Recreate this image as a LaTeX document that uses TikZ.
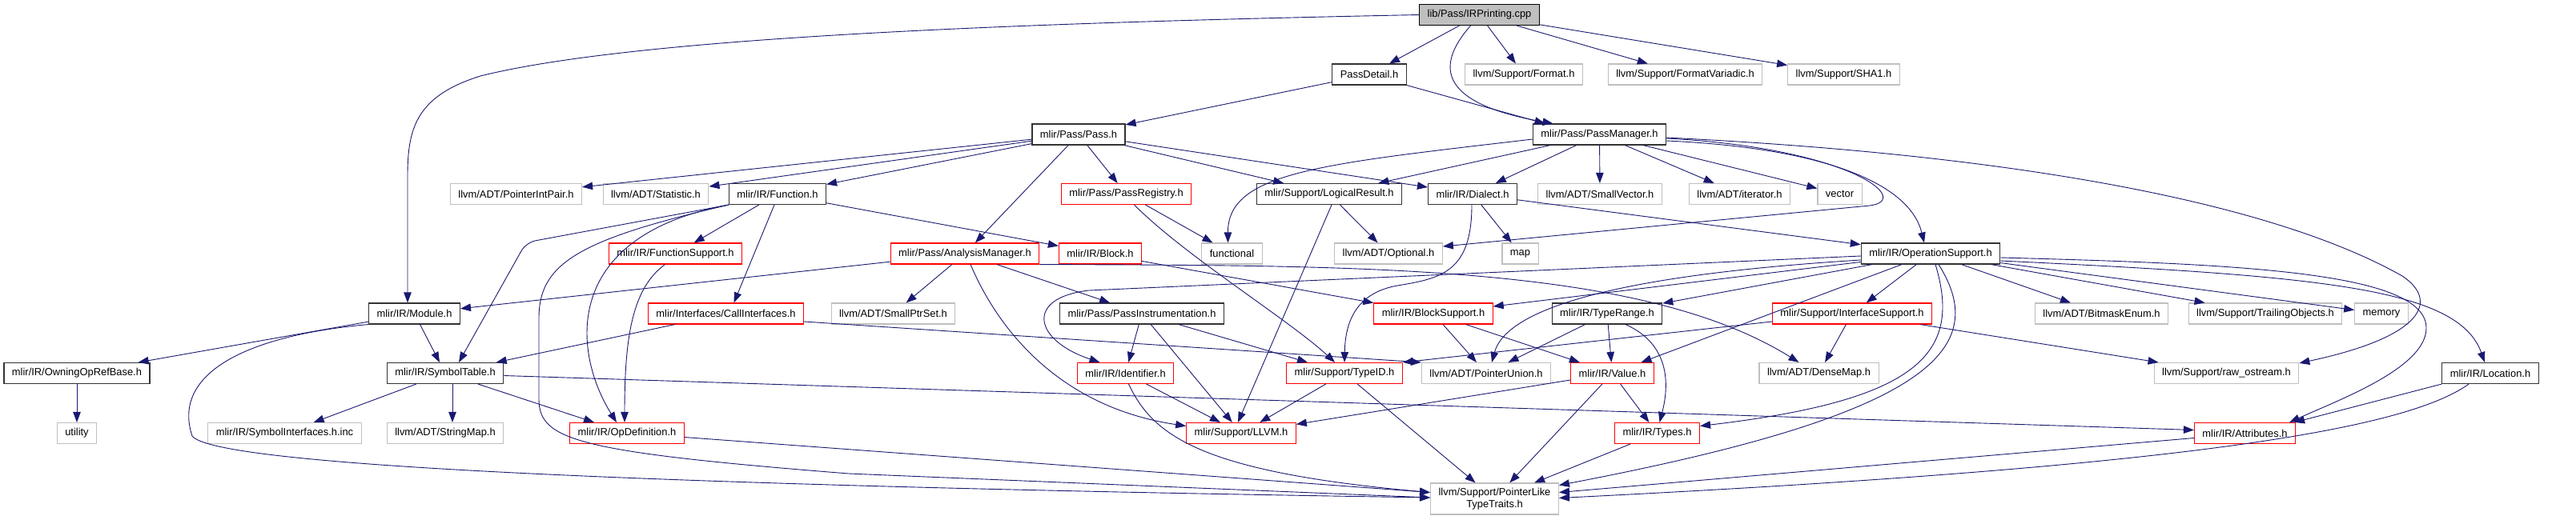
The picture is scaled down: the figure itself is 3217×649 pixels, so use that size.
\documentclass[tikz,border=0pt]{standalone}
\usepackage{fontspec}
\setmainfont{Liberation Sans}
\usetikzlibrary{arrows.meta}

\definecolor{edgeblue}{HTML}{191970}
\definecolor{extgrey}{HTML}{BFBFBF}

\begin{document}
\begin{tikzpicture}[x=1pt, y=-1pt,
  file/.style={draw, line width=1.1pt, inner xsep=10pt, inner ysep=0pt,
    minimum height=26pt, font=\fontsize{12.9}{15}\selectfont},
  doc/.style={file, draw=black!80},
  trunc/.style={file, draw=red},
  ext/.style={file, draw=extgrey},
  dep/.style={draw=edgeblue, line width=0.9pt, -{Triangle[length=13pt,width=9.5pt]}}]

\useasboundingbox (0,0) rectangle (3217,649);

% The file itself
\node[file, fill=extgrey, draw=black] (root) at (1847.5,18.5) {lib/Pass/IRPrinting.cpp};

% Row 1
\node[doc] (passdetail) at (1710,93) {PassDetail.h};
\node[ext] (format) at (1903,93) {llvm/Support/Format.h};
\node[ext] (formatvar) at (2104.5,93) {llvm/Support/FormatVariadic.h};
\node[ext] (sha1) at (2302.5,93) {llvm/Support/SHA1.h};

% Row 2
\node[doc] (pass) at (1347,168) {mlir/Pass/Pass.h};
\node[doc] (passmgr) at (1997.5,168) {mlir/Pass/PassManager.h};

% Row 3
\node[ext] (ptrintpair) at (644.5,242.5) {llvm/ADT/PointerIntPair.h};
\node[ext] (statistic) at (819,242.5) {llvm/ADT/Statistic.h};
\node[doc] (function) at (971,242.5) {mlir/IR/Function.h};
\node[trunc] (passreg) at (1406.5,242.5) {mlir/Pass/PassRegistry.h};
\node[doc] (logical) at (1660,242.5) {mlir/Support/LogicalResult.h};
\node[doc] (dialect) at (1839,242.5) {mlir/IR/Dialect.h};
\node[ext] (smallvec) at (1998,242.5) {llvm/ADT/SmallVector.h};
\node[ext] (iterator) at (2172.5,242.5) {llvm/ADT/iterator.h};
\node[ext] (vector) at (2297.5,242.5) {vector};

% Row 4
\node[trunc] (funcsupport) at (843.5,317) {mlir/IR/FunctionSupport.h};
\node[trunc] (analysis) at (1205,317) {mlir/Pass/AnalysisManager.h};
\node[trunc] (block) at (1374,317) {mlir/IR/Block.h};
\node[ext] (functional) at (1538.5,317) {functional};
\node[ext] (optional) at (1734,317) {llvm/ADT/Optional.h};
\node[ext] (map) at (1898.5,317) {map};
\node[doc] (opsupport) at (2411,317) {mlir/IR/OperationSupport.h};

% Row 5
\node[doc] (module) at (517.5,392) {mlir/IR/Module.h};
\node[trunc] (callif) at (906.5,392) {mlir/Interfaces/CallInterfaces.h};
\node[ext] (smallptrset) at (1115.5,392) {llvm/ADT/SmallPtrSet.h};
\node[doc] (passinstr) at (1426,392) {mlir/Pass/PassInstrumentation.h};
\node[trunc] (blocksupport) at (1790,392) {mlir/IR/BlockSupport.h};
\node[doc] (typerange) at (2007,392) {mlir/IR/TypeRange.h};
\node[trunc] (ifsupport) at (2313,392) {mlir/Support/InterfaceSupport.h};
\node[ext] (bitmask) at (2624.5,392) {llvm/ADT/BitmaskEnum.h};
\node[ext] (trailing) at (2829,392) {llvm/Support/TrailingObjects.h};
\node[ext] (memory) at (2974,392) {memory};

% Row 6
\node[doc] (owning) at (96,466.5) {mlir/IR/OwningOpRefBase.h};
\node[doc] (symtable) at (556,466.5) {mlir/IR/SymbolTable.h};
\node[trunc] (identifier) at (1405.5,466.5) {mlir/IR/Identifier.h};
\node[trunc] (typeid) at (1679,466.5) {mlir/Support/TypeID.h};
\node[ext] (ptrunion) at (1856,466.5) {llvm/ADT/PointerUnion.h};
\node[trunc] (value) at (2013.5,466.5) {mlir/IR/Value.h};
\node[ext] (densemap) at (2271.5,466.5) {llvm/ADT/DenseMap.h};
\node[ext] (rawos) at (2780.5,466.5) {llvm/Support/raw\_ostream.h};
\node[doc] (location) at (3110,466.5) {mlir/IR/Location.h};

% Row 7
\node[ext] (utility) at (96,541.5) {utility};
\node[ext] (syminterfaces) at (355.5,541.5) {mlir/IR/SymbolInterfaces.h.inc};
\node[ext] (stringmap) at (556,541.5) {llvm/ADT/StringMap.h};
\node[trunc] (opdef) at (783,541.5) {mlir/IR/OpDefinition.h};
\node[trunc] (llvmh) at (1550,541.5) {mlir/Support/LLVM.h};
\node[trunc] (types) at (2069.5,541.5) {mlir/IR/Types.h};
\node[trunc] (attributes) at (2803.5,541.5) {mlir/IR/Attributes.h};

% Bottom
\node[ext, align=center, minimum height=39pt] (pltt) at (1866.5,623.5) {llvm/Support/PointerLike\\TypeTraits.h};

% Includes of IRPrinting.cpp
\draw[dep] (root.west) .. controls (1300,28) and (800,45) .. (600,95)
  .. controls (520,120) and (509,160) .. (509,220) -- ([xshift=-8.5pt]module.north);
\draw[dep] (root) -- (passdetail);
\draw[dep] ([xshift=-11pt]root.south) .. controls (1790,85) and (1800,130) .. ([xshift=-58pt]passmgr.north);
\draw[dep] (root) -- (format);
\draw[dep] (root) -- (formatvar);
\draw[dep] (root) -- (sha1);

% PassDetail.h
\draw[dep] (passdetail) -- (pass);
\draw[dep] (passdetail.south east) -- ([xshift=-68pt]passmgr.north);

% Pass.h
\draw[dep] (pass) -- (ptrintpair);
\draw[dep] (pass) -- (statistic);
\draw[dep] (pass) -- (function);
\draw[dep] (pass) -- (analysis);
\draw[dep] (pass) -- (passreg);
\draw[dep] (pass) -- (logical);
\draw[dep] (pass) -- (dialect);

% PassManager.h
\draw[dep] (passmgr) -- (logical);
\draw[dep] (passmgr) -- (dialect);
\draw[dep] (passmgr) -- (smallvec);
\draw[dep] (passmgr) -- (iterator);
\draw[dep] (passmgr) -- (vector);
\draw[dep] ([yshift=-6pt]passmgr.west) .. controls (1650,205) and (1533,215) .. ([xshift=-5pt]functional.north);
\draw[dep] ([yshift=-5pt]passmgr.east) .. controls (2310,185) and (2390,250) .. (2335,257) -- ([yshift=9pt]optional.east);
\draw[dep] ([yshift=-8pt]passmgr.east) .. controls (2280,185) and (2385,230) .. ([xshift=-8pt]opsupport.north);
\draw[dep] ([yshift=-4pt]passmgr.east) .. controls (2550,195) and (2850,260) .. (3000,345)
  .. controls (3045,375) and (3030,420) .. ([yshift=-1pt]rawos.north east);

% Function.h
\draw[dep] (function) -- (funcsupport);
\draw[dep] ([xshift=-4pt]function.south) -- ([xshift=10pt]callif.north);
\draw[dep] (function) -- (block);
\draw[dep, rounded corners=12pt] (function.south west) -- (657,303) -- ([xshift=17pt]symtable.north);
\draw[dep] (function.south west) .. controls (700,295) and (715,440) .. ([xshift=-13pt]opdef.north);
\draw[dep] (function.south west) .. controls (720,300) and (672,330) .. (673,400) -- (673,500)
  .. controls (674,550) and (720,565) .. (1060,592) -- ([yshift=1.5pt]pltt.west);
\draw[dep] ([xshift=-13pt]funcsupport.south) .. controls (790,360) and (780,420) .. ([xshift=-3pt]opdef.north);

% LogicalResult.h, PassRegistry.h, Dialect.h
\draw[dep] (logical) -- (optional);
\draw[dep] ([xshift=3pt]logical.south) -- ([xshift=-4pt]llvmh.north);
\draw[dep] (passreg) -- (functional);
\draw[dep] ([xshift=10pt]passreg.south) .. controls (1480,320) and (1610,400) .. ([xshift=-12pt]typeid.north);
\draw[dep] (dialect) -- (map);
\draw[dep] (dialect) -- (opsupport);
\draw[dep] ([xshift=-1pt]dialect.south) .. controls (1838,340) and (1800,348) .. (1745,357)
  .. controls (1695,366) and (1680,400) .. (typeid.north);

% AnalysisManager.h
\draw[dep] (analysis) -- (module);
\draw[dep] (analysis) -- (smallptrset);
\draw[dep] (analysis) -- (passinstr);
\draw[dep] ([xshift=7pt]analysis.south) .. controls (1250,420) and (1330,510) .. ([yshift=9pt]llvmh.west);
\draw[dep] (analysis.south east) .. controls (1700,332) and (2050,330) .. ([xshift=-25pt]densemap.north);

% Block.h, Module.h, CallInterfaces.h, PassInstrumentation.h
\draw[dep] (block) -- (blocksupport);
\draw[dep] (module) -- (owning);
\draw[dep] (module) -- (symtable);
\draw[dep] (module.south west) .. controls (300,420) and (215,470) .. (240,545)
  .. controls (265,578) and (700,605) .. ([yshift=1.5pt]pltt.west);
\draw[dep] (callif) -- (symtable);
\draw[dep] ([yshift=-10pt]callif.east) -- (ptrunion.north west);
\draw[dep] (passinstr) -- (identifier);
\draw[dep] (passinstr) -- (llvmh);
\draw[dep] (passinstr) -- (typeid);

% OperationSupport.h
\draw[dep] (opsupport) -- (ifsupport);
\draw[dep] (opsupport) -- (bitmask);
\draw[dep] (opsupport) -- (trailing);
\draw[dep] (opsupport) -- (memory);
\draw[dep] (opsupport) -- (value);
\draw[dep] (opsupport) -- (typerange);
\draw[dep] (opsupport) -- (blocksupport);
\draw[dep] ([yshift=-8pt]opsupport.west) .. controls (2000,345) and (1880,390) .. ([xshift=7pt]ptrunion.north);
\draw[dep] ([yshift=-3pt]opsupport.west) -- (1360,363) .. controls (1280,372) and (1290,425) .. ([xshift=-32pt]identifier.north);
\draw[dep] ([yshift=-9pt]opsupport.east) .. controls (2900,345) and (3070,360) .. ([xshift=-7pt]location.north);
\draw[dep] ([yshift=-5pt]opsupport.east) .. controls (2800,330) and (3030,340) .. (3030,410)
  .. controls (3030,460) and (2920,500) .. ([xshift=-8pt]attributes.north east);
\draw[dep] ([xshift=6pt]opsupport.south) .. controls (2450,440) and (2400,500) .. ([yshift=9pt]types.east);
\draw[dep] ([xshift=10pt]opsupport.south) .. controls (2490,440) and (2400,520) .. ([yshift=17pt]pltt.east);

% The lower headers
\draw[dep] (blocksupport) -- (ptrunion);
\draw[dep] (blocksupport) -- (value);
\draw[dep] (typerange) -- (ptrunion);
\draw[dep] (typerange) -- (value);
\draw[dep] ([xshift=23pt]typerange.south) .. controls (2085,430) and (2085,480) .. ([xshift=3pt]types.north);
\draw[dep] (ifsupport) -- (densemap);
\draw[dep] ([yshift=-10pt]ifsupport.west) -- (typeid.north east);
\draw[dep] (ifsupport) -- (rawos);
\draw[dep] (owning) -- (utility);
\draw[dep] (symtable) -- (syminterfaces);
\draw[dep] ([xshift=9pt]symtable.south) -- ([xshift=9pt]stringmap.north);
\draw[dep] (symtable) -- (opdef);
\draw[dep] ([yshift=-3pt]symtable.east) -- ([yshift=4pt]attributes.west);
\draw[dep] ([yshift=-5pt]opdef.east) -- ([yshift=8pt]pltt.west);
\draw[dep] (identifier) -- (llvmh);
\draw[dep] ([xshift=4pt]identifier.south) .. controls (1440,545) and (1500,590) .. ([yshift=8pt]pltt.west);
\draw[dep] (typeid) -- (llvmh);
\draw[dep] (typeid) -- (pltt);
\draw[dep] (value) -- (llvmh);
\draw[dep] (value) -- (types);
\draw[dep] (value) -- (pltt);
\draw[dep] (types) -- (pltt);
\draw[dep] ([yshift=-6pt]attributes.west) -- ([yshift=8pt]pltt.east);
\draw[dep] (location.south west) -- ([xshift=-2pt]attributes.north east);
\draw[dep] ([xshift=-27pt]location.south) .. controls (3000,540) and (2700,585) .. ([yshift=1pt]pltt.east);

\end{tikzpicture}
\end{document}
